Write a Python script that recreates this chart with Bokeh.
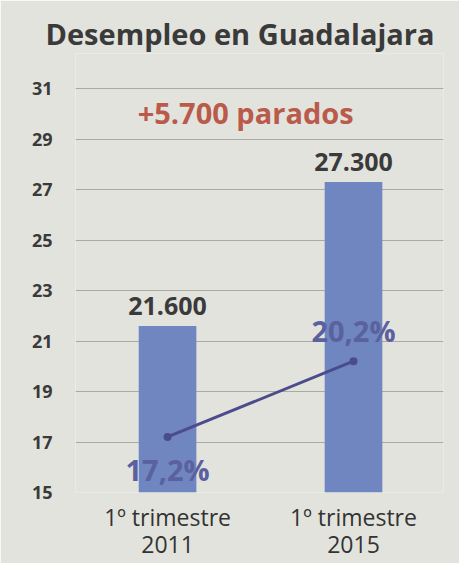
from bokeh.plotting import figure
from bokeh.models import Range1d, FixedTicker, ColumnDataSource
from bokeh.core.properties import value
from bokeh.embed import file_html
from bokeh.resources import INLINE

categories = ["1º trimestre\n2011", "1º trimestre\n2015"]
parados = [21.6, 27.3]            # miles de parados
parados_labels = ["21.600", "27.300"]
tasa = [17.2, 20.2]               # tasa de paro, %
tasa_labels = ["17,2%", "20,2%"]
y_ticks = [15, 17, 19, 21, 23, 25, 27, 29, 31]
increase_label = "+5.700 parados"
title = "Desempleo en Guadalajara"

BG = "#e3e3dd"
FONT = "Open Sans"
xs = list(range(len(categories)))

p = figure(width=459, height=563, output_backend="svg", toolbar_location=None,
           x_range=Range1d(-0.495, 1.484), y_range=Range1d(15, 32.39),
           min_border_left=75, min_border_right=16, min_border_top=53,
           min_border_bottom=71, title=title)
p.background_fill_color = BG
p.border_fill_color = BG
p.outline_line_color = None

p.title.text_font = FONT
p.title.text_font_size = "29px"
p.title.text_font_style = "bold"
p.title.text_color = "#3a3a3a"
p.title.align = "left"
p.title.offset = -30
p.title.standoff = 2

src = ColumnDataSource(dict(x=xs, parados=parados, plab=parados_labels,
                            tasa=tasa, tlab=tasa_labels))

p.vbar(x="x", top="parados", bottom=15, width=0.31, source=src,
       fill_color="#6f86c0", line_color=None)
p.text(x="x", y="parados", text="plab", source=src, text_align="center",
       text_baseline="bottom", y_offset=-11, text_font=value(FONT),
       text_font_size="25px", text_font_style="bold", text_color="#3a3a3a")

p.line(x="x", y="tasa", source=src, line_color="#4b4c8c", line_width=3)
p.scatter(x="x", y="tasa", source=src, size=8, fill_color="#4b4c8c", line_color=None)
p.text(x=[xs[0]], y=[tasa[0]], text=[tasa_labels[0]], text_align="center",
       text_baseline="middle", y_offset=33, text_font=value(FONT),
       text_font_size="29px", text_font_style="bold", text_color="#5a619e")
p.text(x=[xs[1]], y=[tasa[1]], text=[tasa_labels[1]], text_align="center",
       text_baseline="middle", y_offset=-31, text_font=value(FONT),
       text_font_size="29px", text_font_style="bold", text_color="#5a619e")

p.text(x=[0.42], y=[30.05], text=[increase_label], text_align="center",
       text_baseline="middle", text_font=value(FONT), text_font_size="29px",
       text_font_style="bold", text_color="#b95a4b")

p.xaxis.ticker = FixedTicker(ticks=xs)
p.xaxis.major_label_overrides = {i: c for i, c in zip(xs, categories)}
p.xaxis.axis_line_color = None
p.xaxis.major_tick_line_color = None
p.xaxis.minor_tick_line_color = None
p.xaxis.major_tick_out = 0
p.xaxis.axis_label_standoff = 0
p.xaxis.major_label_text_font = FONT
p.xaxis.major_label_text_font_size = "23px"
p.xaxis.major_label_text_line_height = 0.87
p.xaxis.major_label_text_color = "#333333"
p.xaxis.major_label_standoff = 8

p.yaxis.ticker = FixedTicker(ticks=y_ticks)
p.yaxis.axis_line_color = None
p.yaxis.major_tick_line_color = None
p.yaxis.minor_tick_line_color = None
p.yaxis.major_tick_out = 0
p.yaxis.major_label_text_font = FONT
p.yaxis.major_label_text_font_size = "18px"
p.yaxis.major_label_text_font_style = "bold"
p.yaxis.major_label_text_color = "#3a3a3a"
p.yaxis.major_label_standoff = 23

p.xgrid.grid_line_color = None
p.ygrid.grid_line_color = "#a9a9a6"
p.ygrid.grid_line_width = 1.2

open("out.html", "w").write(file_html(p, INLINE))
